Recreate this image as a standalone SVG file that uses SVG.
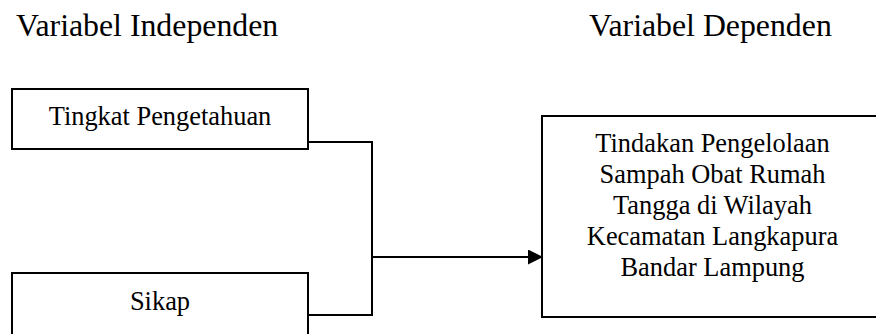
<svg xmlns="http://www.w3.org/2000/svg" width="876" height="334" viewBox="0 0 876 334">
<defs>
<marker id="arr" markerWidth="15" markerHeight="15" refX="14" refY="7.5" orient="auto" markerUnits="userSpaceOnUse">
<path d="M0,0 L15,7.5 L0,15 Z" fill="#000"/>
</marker>
<style>
.t{font-family:"Liberation Serif","Times New Roman",serif;fill:#000}
.h{font-size:31.8px}
.b{font-size:26.4px;text-anchor:middle}
.box{fill:#fff;stroke:#000;stroke-width:2}
.c{fill:none;stroke:#000;stroke-width:2}
</style>
</defs>
<rect width="876" height="334" fill="#fff"/>
<text class="t h" x="16" y="36">Variabel Independen</text>
<text class="t h" x="589" y="36">Variabel Dependen</text>
<g id="node-pengetahuan">
<rect class="box" x="12" y="89" width="296" height="60"/>
<text class="t b" x="160" y="125">Tingkat Pengetahuan</text>
</g>
<g id="node-sikap">
<rect class="box" x="12" y="273" width="296" height="70"/>
<text class="t b" x="160" y="310">Sikap</text>
</g>
<g id="node-tindakan">
<rect class="box" x="542" y="116" width="345" height="201"/>
<text class="t b" x="712.5" y="152">Tindakan Pengelolaan</text>
<text class="t b" x="712.5" y="183">Sampah Obat Rumah</text>
<text class="t b" x="712.5" y="214">Tangga di Wilayah</text>
<text class="t b" x="712.5" y="245">Kecamatan Langkapura</text>
<text class="t b" x="712.5" y="276">Bandar Lampung</text>
</g>
<g id="connectors">
<polyline class="c" points="308,142 372,142 372,315 308,315"/>
<line class="c" x1="372" y1="257" x2="542" y2="257" marker-end="url(#arr)"/>
</g>
</svg>
